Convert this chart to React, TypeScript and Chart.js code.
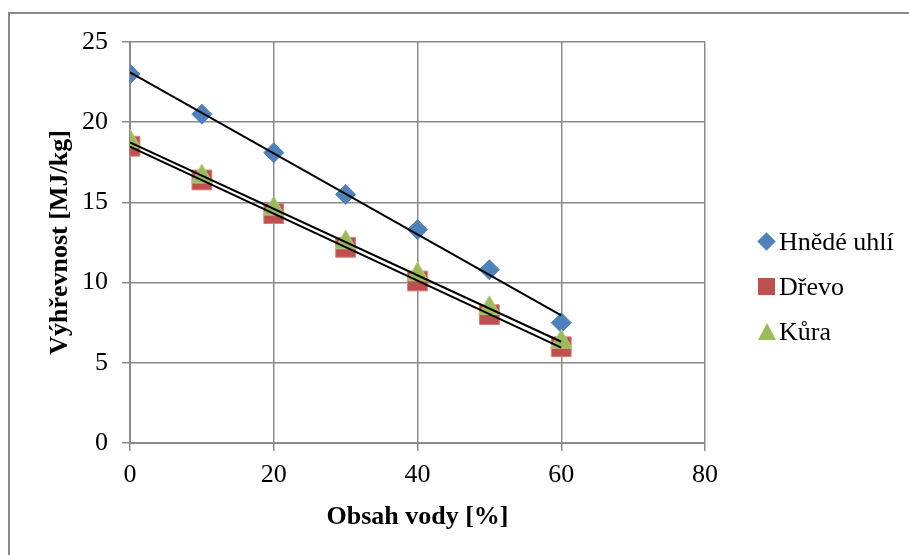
import { useEffect, useRef } from "react";
import { Chart, registerables } from "chart.js";

Chart.register(...registerables);

const xValues = [0, 10, 20, 30, 40, 50, 60];
const hnedeUhli = [23.0, 20.5, 18.1, 15.5, 13.3, 10.8, 7.5];
const drevo = [18.5, 16.4, 14.3, 12.2, 10.1, 8.0, 6.0];
const kura = [18.8, 16.6, 14.6, 12.5, 10.5, 8.4, 6.3];
const seriesNames = ["Hnědé uhlí", "Dřevo", "Kůra"];
const xTicks = [0, 20, 40, 60, 80];
const yTicks = [0, 5, 10, 15, 20, 25];
const xTitle = "Obsah vody [%]";
const yTitle = "Výhřevnost [MJ/kg]";

const COLORS = ["#4F81BD", "#C0504D", "#9BBB59"];
const BORDERS = ["#4F81BD", "#D4827F", "#B3CC80"];
const STYLES = ["rectRot", "rect", "triangle"];
const RADII = [10, 14, 12.5];
const FONT = "'Liberation Serif', 'Times New Roman', serif";
const GRID = "#8a8a8a";

function points(ys: number[]) {
  return xValues.map((x, i) => ({ x, y: ys[i] }));
}

function linearFit(ys: number[]) {
  const n = xValues.length;
  const mx = xValues.reduce((a, b) => a + b, 0) / n;
  const my = ys.reduce((a, b) => a + b, 0) / n;
  let sxy = 0;
  let sxx = 0;
  xValues.forEach((x, i) => {
    sxy += (x - mx) * (ys[i] - my);
    sxx += (x - mx) * (x - mx);
  });
  const slope = sxy / sxx;
  const icpt = my - slope * mx;
  const x0 = Math.min(...xValues);
  const x1 = Math.max(...xValues);
  return [
    { x: x0, y: icpt + slope * x0 },
    { x: x1, y: icpt + slope * x1 },
  ];
}

function Marker({ i }: { i: number }) {
  if (STYLES[i] === "rectRot") {
    return (
      <span style={{ position: "absolute", left: 2, top: 3, width: 13, height: 13, background: COLORS[i], transform: "rotate(45deg)" }} />
    );
  }
  if (STYLES[i] === "rect") {
    return <span style={{ position: "absolute", left: 0, top: 1, width: 17, height: 17, background: COLORS[i] }} />;
  }
  return (
    <span
      style={{
        position: "absolute",
        left: 0,
        top: 1,
        width: 0,
        height: 0,
        borderLeft: "9px solid transparent",
        borderRight: "9px solid transparent",
        borderBottom: "17px solid " + COLORS[i],
      }}
    />
  );
}

export default function App() {
  const ref = useRef<HTMLCanvasElement | null>(null);

  useEffect(() => {
    if (!ref.current) return;
    const series = [hnedeUhli, drevo, kura];
    const markerSets = series.map((ys, i) => ({
      type: "scatter" as const,
      label: seriesNames[i],
      data: points(ys),
      pointStyle: STYLES[i],
      pointRadius: RADII[i],
      pointHoverRadius: RADII[i],
      backgroundColor: COLORS[i],
      borderColor: BORDERS[i],
      borderWidth: 1,
      showLine: false,
      order: 3 - i + 1,
    }));
    const trendSets = series.map((ys, i) => ({
      type: "scatter" as const,
      label: "trend " + seriesNames[i],
      data: linearFit(ys),
      showLine: true,
      borderColor: "#000",
      borderWidth: 2,
      pointRadius: 0,
      pointHoverRadius: 0,
      order: 0,
    }));

    const chart = new Chart(ref.current, {
      type: "scatter",
      data: { datasets: [...trendSets, ...markerSets] as any },
      options: {
        animation: false,
        responsive: false,
        devicePixelRatio: 1,
        layout: { padding: { top: 42, right: 204, left: 0, bottom: 0 } },
        plugins: {
          legend: { display: false },
          tooltip: { enabled: false },
        },
        scales: {
          x: {
            type: "linear",
            min: xTicks[0],
            max: xTicks[xTicks.length - 1],
            afterBuildTicks: (s: any) => {
              s.ticks = xTicks.map((v) => ({ value: v }));
            },
            afterFit: (s: any) => {
              s.height = 112;
            },
            grid: {
              color: GRID,
              lineWidth: 1.5,
              tickLength: 8,
              tickColor: GRID,
              drawTicks: true,
            },
            border: { color: GRID, width: 2 },
            ticks: {
              color: "#000",
              font: { family: FONT, size: 26 },
              padding: 9,
              maxRotation: 0,
            },
            title: {
              display: true,
              text: xTitle,
              color: "#000",
              font: { family: FONT, size: 26, weight: "bold" },
              padding: { top: 0, bottom: 22 },
            },
          },
          y: {
            type: "linear",
            min: yTicks[0],
            max: yTicks[yTicks.length - 1],
            afterBuildTicks: (s: any) => {
              s.ticks = yTicks.map((v) => ({ value: v }));
            },
            afterFit: (s: any) => {
              s.width = 130;
            },
            grid: {
              color: GRID,
              lineWidth: 1.5,
              tickLength: 8,
              tickColor: GRID,
              drawTicks: true,
            },
            border: { color: GRID, width: 2 },
            ticks: {
              color: "#000",
              font: { family: FONT, size: 26 },
              padding: 14,
            },
            title: {
              display: true,
              text: yTitle,
              color: "#000",
              font: { family: FONT, size: 26, weight: "bold" },
              padding: { top: 45, bottom: 0 },
            },
          },
        },
      },
    });
    return () => chart.destroy();
  }, []);

  const rows = [242, 287, 332];

  return (
    <div
      style={{
        position: "fixed",
        left: 0,
        top: 0,
        width: 909,
        height: 555,
        background: "#fff",
        overflow: "hidden",
      }}
    >
      <div
        style={{
          position: "absolute",
          left: 8,
          top: 12,
          width: 1000,
          height: 1000,
          borderLeft: "2px solid #8a8a8a",
          borderTop: "2px solid #8a8a8a",
        }}
      />
      <canvas
        ref={ref}
        width={909}
        height={555}
        style={{ position: "absolute", left: 0, top: 0, width: 909, height: 555 }}
      />
      {seriesNames.map((name, i) => (
        <div
          key={name}
          style={{
            position: "absolute",
            left: 758,
            top: rows[i] - 10,
            height: 20,
            width: 150,
          }}
        >
          <Marker i={i} />
          <span
            style={{
              position: "absolute",
              left: 21,
              top: -5,
              fontFamily: FONT,
              fontSize: 26,
              lineHeight: "30px",
              color: "#000",
              whiteSpace: "nowrap",
            }}
          >
            {name}
          </span>
        </div>
      ))}
    </div>
  );
}
